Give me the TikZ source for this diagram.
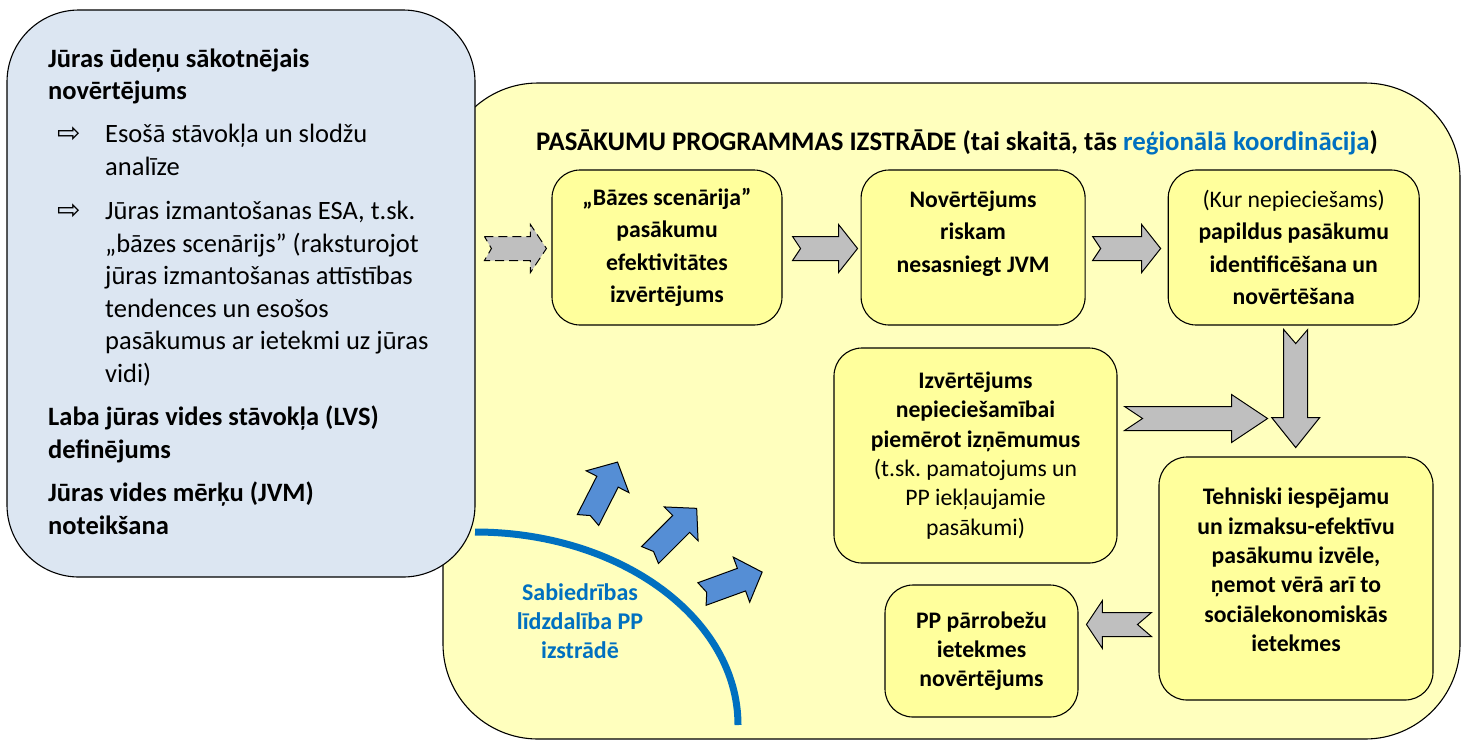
\documentclass[tikz,border=0pt]{standalone}
\usepackage{fontspec}
\setmainfont{Carlito}
\newfontfamily\symfont{DejaVu Sans}
\usetikzlibrary{positioning,calc}
\frenchspacing

\definecolor{iniblue}{HTML}{DCE6F2}
\definecolor{ppyellow}{HTML}{FFFFBE}
\definecolor{boxyellow}{HTML}{FFFF9C}
\definecolor{arrgray}{HTML}{BFBFBF}
\definecolor{arrblue}{HTML}{558ED5}
\definecolor{txtblue}{HTML}{0070C0}

\tikzset{
  stepbox/.style={draw, line width=1.1pt, rounded corners=28pt, fill=boxyellow,
    align=center, inner sep=0pt,
    font=\fontsize{23.7}{32.5}\selectfont\bfseries},
  lowbox/.style={stepbox, font=\fontsize{23.7}{29.3}\selectfont\bfseries},
  graystep/.style={draw, line width=1pt, fill=arrgray, line join=miter},
  bluestep/.style={draw, line width=1pt, fill=arrblue, line join=miter},
  initxt/.style={anchor=base west, inner sep=0pt, align=left,
    font=\fontsize{26.5}{32.5}\selectfont},
  inihead/.style={initxt, font=\fontsize{26.5}{32.5}\selectfont\bfseries},
}

% notched block arrow: style, tail, angle, length, head length, notch
\newcommand\blockarrow[6]{%
  \begin{scope}[shift={#2}, rotate=#3]
    \draw[#1] (0,-12) -- ({#4-#5},-12) -- ({#4-#5},-24) -- (#4,0)
      -- ({#4-#5},24) -- ({#4-#5},12) -- (0,12) -- (#6,0) -- cycle;
  \end{scope}}

\begin{document}
\begin{tikzpicture}[x=1pt, y=-1pt]
  \useasboundingbox (0,0) rectangle (1461,740);

  % background areas
  \draw[line width=1.1pt, rounded corners=95pt, fill=ppyellow]
    (443,83) rectangle (1460,739);
  \draw[txtblue, line width=7pt] (475,532) arc[start angle=90, end angle=0,
    x radius=263, y radius=-193];
  \node[draw, line width=1.1pt, rounded corners=72pt, fill=iniblue,
    minimum width=468pt, minimum height=567pt] (ini) at (241,293.5) {};

  % initial assessment text (base = last line)
  \node[inihead] (sak) at (48,99.5) {Jūras ūdeņu sākotnējais\\novērtējums};
  \node[initxt] (bul1) at (57,142) {\symfont\fontsize{28}{30}\selectfont ⇨};
  \node[initxt] (esa1) at (105,175) {Esošā stāvokļa un slodžu\\analīze};
  \node[initxt] (bul2) at (57,219) {\symfont\fontsize{28}{30}\selectfont ⇨};
  \node[initxt] (esa2) at (105,382) {Jūras izmantošanas ESA, t.sk.\\
    „bāzes scenārijs” (raksturojot\\jūras izmantošanas attīstības\\
    tendences un esošos\\pasākumus ar ietekmi uz jūras\\vidi)};
  \node[inihead] (lvs) at (48,458) {Laba jūras vides stāvokļa (LVS)\\definējums};
  \node[inihead] (jvm) at (48,534) {Jūras vides mērķu (JVM)\\noteikšana};

  % programme of measures
  \node[anchor=base, inner sep=0pt, font=\fontsize{26.8}{32.5}\selectfont\bfseries]
    (title) at (957,150)
    {PASĀKUMU PROGRAMMAS IZSTRĀDE (tai skaitā, tās
     \textcolor{txtblue}{reģionālā koordinācija})};

  \node[stepbox, minimum width=230pt, minimum height=155pt] (basA) at (667,247.5)
    {„Bāzes scenārija”\\pasākumu\\efektivitātes\\izvērtējums};
  \node[stepbox, minimum width=224pt, minimum height=155pt, right=78pt of basA] (risk)
    {Novērtējums\\riskam\\nesasniegt JVM\\\mbox{}};
  \node[stepbox, minimum width=251pt, minimum height=155pt, right=82pt of risk] (papild)
    {{\mdseries (Kur nepieciešams)}\\papildus pasākumu\\identificēšana un\\novērtēšana};
  \node[lowbox, minimum width=283pt, minimum height=215pt] (izn) at (975.5,455.5)
    {Izvērtējums\\nepieciešamībai\\piemērot izņēmumus\\{\mdseries (t.sk. pamatojums un}\\
     {\mdseries PP iekļaujamie}\\{\mdseries pasākumi)}};
  \node[lowbox, minimum width=274pt, minimum height=243pt] (tehn) at (1296,578.5)
    {Tehniski iespējamu\\un izmaksu-efektīvu\\pasākumu izvēle,\\ņemot vērā arī to\\
     sociālekonomiskās\\ietekmes\\[-12pt]\mbox{}};
  \node[lowbox, minimum width=193pt, minimum height=132pt] (parr) at (981.5,651)
    {PP pārrobežu\\ietekmes\\novērtējums};

  % public participation
  \node[anchor=base, inner sep=0pt, align=center, text=txtblue,
    font=\fontsize{24}{29}\selectfont\bfseries] (sab) at (580,658)
    {Sabiedrības\\līdzdalība PP\\izstrādē};

  % gray flow arrows
  \blockarrow{graystep, dashed, dash pattern=on 9pt off 5pt}{($(basA.west)+(-67,1)$)}{0}{62}{16}{7}
  \blockarrow{graystep}{($(basA.east)+(10,1)$)}{0}{65}{19}{8}
  \blockarrow{graystep}{($(risk.east)+(7,1)$)}{0}{68}{19}{8}
  \blockarrow{graystep}{($(papild.south)+(2,4)$)}{-90}{118}{30}{14}
  \blockarrow{graystep}{($(izn.east)+(7,-37)$)}{0}{143}{36}{18}
  \blockarrow{graystep}{($(tehn.west)+(-7,46)$)}{180}{65}{16}{14}

  % blue participation arrows
  \blockarrow{bluestep}{(588,520)}{63}{65}{22}{5}
  \blockarrow{bluestep}{(650,555)}{45}{66}{22}{5}
  \blockarrow{bluestep}{(702,594)}{20}{64}{22}{5}
\end{tikzpicture}
\end{document}
